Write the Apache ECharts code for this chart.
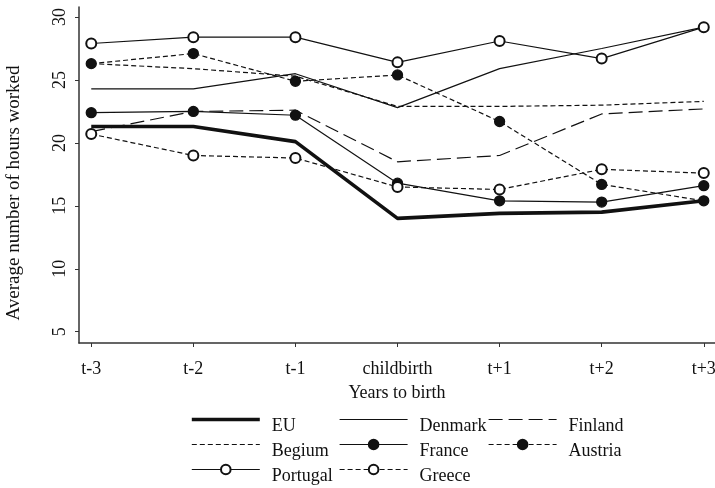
<!DOCTYPE html>
<html>
<head>
<meta charset="utf-8">
<script src="https://cdn.jsdelivr.net/npm/echarts@6/dist/echarts.min.js"></script>
<style>
html,body{margin:0;padding:0;background:#fff;}
#chart{width:715px;height:488px;}
</style>
</head>
<body>
<div id="chart"></div>
<script>
// Categories (tick labels of the x axis)
var categories = ['t-3', 't-2', 't-1', 'childbirth', 't+1', 't+2', 't+3'];
// Y tick values
var yTicks = [5, 10, 15, 20, 25, 30];

// Series values (average hours worked)
var euValues       = [21.3, 21.3, 20.1, 14.0, 14.4, 14.5, 15.4];
var denmarkValues  = [24.3, 24.3, 25.5, 22.8, 25.9, 27.5, 29.2];
var finlandValues  = [20.9, 22.5, 22.6, 18.5, 19.0, 22.3, 22.7];
var belgiumValues  = [26.3, 25.9, 25.3, 22.9, 22.9, 23.0, 23.3];
var franceValues   = [22.4, 22.5, 22.2, 16.8, 15.4, 15.3, 16.6];
var austriaValues  = [26.3, 27.1, 24.9, 25.4, 21.7, 16.7, 15.4];
var portugalValues = [27.9, 28.4, 28.4, 26.4, 28.1, 26.7, 29.2];
var greeceValues   = [20.7, 19.0, 18.8, 16.5, 16.3, 17.9, 17.6];

var legendCol1 = ['EU', 'Begium', 'Portugal'];
var legendCol2 = ['Denmark', 'France', 'Greece'];
var legendCol3 = ['Finland', 'Austria'];

var INK = '#111';
var FONT = '"Liberation Serif", "DejaVu Serif", serif';

function pts(vals) {
  return vals.map(function (v, i) { return [i - 3, v]; });
}

var styleOf = {};
function mk(name, vals, width, dash, symbol) {
  styleOf[name] = { width: width, symbol: symbol };
  return {
    name: name,
    type: 'line',
    data: pts(vals),
    symbol: symbol || 'none',
    symbolSize: 10,
    showSymbol: !!symbol,
    lineStyle: { color: INK, width: width, type: dash || 'solid' },
    itemStyle: { color: INK, borderColor: INK, borderWidth: 1.3 },
    emphasis: { disabled: true },
    z: 2
  };
}

var series = [
  mk('EU', euValues, 3.6, 'solid', null),
  mk('Denmark', denmarkValues, 1.2, 'solid', null),
  mk('Finland', finlandValues, 1.2, [14, 6], null),
  mk('Begium', belgiumValues, 1.2, [5, 3], null),
  mk('France', franceValues, 1.2, 'solid', 'circle'),
  mk('Austria', austriaValues, 1.2, [5, 3], 'circle'),
  mk('Portugal', portugalValues, 1.2, 'solid', 'emptyCircle'),
  mk('Greece', greeceValues, 1.2, [5, 3], 'emptyCircle')
];

function legendItem(name) {
  var s = styleOf[name];
  var item = { name: name, lineStyle: { width: s.width } };
  if (!s.symbol) item.itemStyle = { opacity: 0 };
  return item;
}

function legend(left, names) {
  return {
    orient: 'vertical',
    left: left,
    top: 404,
    height: 90,
    padding: 0,
    itemGap: -6,
    itemWidth: 68,
    itemHeight: 12,
    selectedMode: false,
    data: names.map(legendItem),
    formatter: function (name) { return '\n' + name; },
    textStyle: {
      fontFamily: FONT,
      fontSize: 18,
      color: INK,
      lineHeight: 13,
      padding: [0, 0, 0, 7]
    }
  };
}

var chart = echarts.init(document.getElementById('chart'), null, { renderer: 'canvas' });
chart.setOption({
  animation: false,
  backgroundColor: '#fff',
  grid: { left: 79, right: 0, top: 7, bottom: 145, outerBoundsMode: 'none' },
  xAxis: {
    type: 'value',
    min: -3.12,
    max: 3.11,
    name: 'Years to birth',
    nameLocation: 'middle',
    nameGap: 41,
    nameTextStyle: { fontFamily: FONT, fontSize: 18, color: INK },
    splitLine: { show: false },
    axisLine: { show: true, onZero: false, lineStyle: { color: '#333', width: 1.5 } },
    axisTick: { show: true, length: 4, customValues: [-3, -2, -1, 0, 1, 2, 3], lineStyle: { color: '#333' } },
    axisLabel: {
      customValues: [-3, -2, -1, 0, 1, 2, 3],
      margin: 17,
      fontFamily: FONT, fontSize: 18, color: INK,
      formatter: function (v) { return categories[Math.round(v) + 3]; }
    }
  },
  yAxis: {
    type: 'value',
    min: 4.1,
    max: 30.8,
    name: 'Average number of hours worked',
    nameLocation: 'middle',
    nameGap: 55,
    nameTextStyle: { fontFamily: FONT, fontSize: 19, color: INK, padding: [0, 36, 0, 0] },
    splitLine: { show: false },
    axisLine: { show: true, onZero: false, lineStyle: { color: '#333', width: 1.5 } },
    axisTick: { show: true, length: 4, customValues: yTicks, lineStyle: { color: '#333' } },
    axisLabel: {
      customValues: yTicks,
      rotate: 90,
      margin: 10,
      fontFamily: FONT, fontSize: 18, color: INK
    }
  },
  legend: [legend(190, legendCol1), legend(339, legendCol2), legend(488, legendCol3)],
  series: series
});
</script>
</body>
</html>
